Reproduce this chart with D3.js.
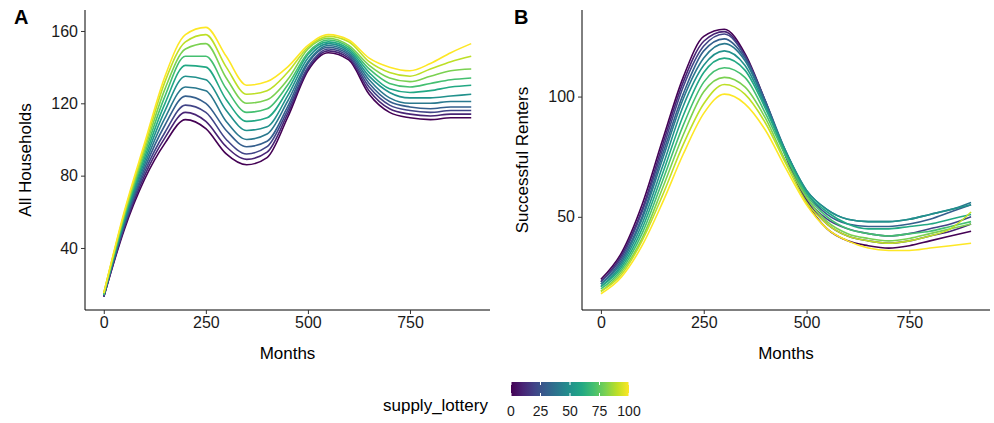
<!DOCTYPE html><html><head><script src="https://cdn.jsdelivr.net/npm/d3@7"></script>
<style>body{margin:0;background:#fff}text{font-family:"Liberation Sans",Arial,sans-serif}</style></head><body>
<svg id="c" width="994" height="423"></svg>
<script>
const months=[0,50,100,150,200,250,300,350,400,450,500,550,600,650,700,750,800,850,900];
const lotteries=[0,10,20,30,40,50,60,70,80,90,100];
const householdsA=[
[13,50,78,98,111,106,92,86,90,112,138,148,144,125,115,112,111,112,112],
[13,51,80,101,115,110,96,89,93,114,139,149,145,127,117,114,113,114,114],
[13,52,82,104,119,115,100,92,96,116,140,150,146,129,119,116,115,116,116],
[14,53,84,108,124,120,105,96,99,118,142,151,147,131,121,118,117,118,118],
[14,54,86,112,129,127,110,100,103,121,143,152,148,133,123,120,120,121,121],
[14,55,88,116,135,133,116,105,107,124,145,153,149,135,126,123,123,124,125],
[14,56,90,120,141,140,122,110,112,127,147,154,150,137,128,126,127,129,130],
[14,57,92,124,146,146,128,115,117,130,148,155,151,139,131,129,131,133,134],
[15,58,94,128,150,153,134,120,122,133,150,156,152,141,134,132,135,138,139],
[15,59,96,132,154,158,140,125,127,137,151,157,154,143,137,135,139,143,146],
[15,60,98,135,158,162,146,130,132,140,152,158,155,145,140,138,142,148,153]];
const rentersB=[
[24,35,55,82,108,125,128,118,98,75,56,45,40,38,37,38,40,42,44],
[23,34,53,80,106,123,127,117,97,75,57,47,42,40,39,40,42,44,47],
[23,33,52,78,104,121,126,117,98,76,58,49,45,43,42,43,45,47,50],
[22,32,50,76,101,119,124,116,98,77,60,51,47,46,46,47,49,52,55],
[22,31,49,74,99,116,122,115,97,77,61,53,49,48,48,49,51,53,56],
[21,30,47,71,96,113,119,113,96,77,61,53,49,48,48,49,51,53,55],
[21,29,45,68,92,110,116,111,95,76,60,52,47,45,45,46,47,49,51],
[20,28,43,65,88,106,112,108,93,75,59,50,45,43,42,43,44,46,48],
[19,27,41,62,84,102,108,104,91,73,58,48,43,41,40,41,43,45,47],
[19,26,40,59,80,97,105,101,89,72,56,47,42,40,39,40,42,45,52],
[18,25,38,56,76,93,101,97,86,70,55,45,40,37,36,36,37,38,39]];
const svg=d3.select("#c");
const color=d3.scaleSequential(d3.interpolateViridis).domain([0,100]);
function panel(x0,x1,ydom,yticks,data,label,ylab,labx){
 const x=d3.scaleLinear().domain([-46,946]).range([x0,x1]);
 const y=d3.scaleLinear().domain(ydom).range([310,10]);
 const g=svg.append("g");
 const line=d3.line().x((d,i)=>x(months[i])).y(d=>y(d)).curve(d3.curveMonotoneX);
 data.forEach((s,k)=>g.append("path").attr("d",line(s)).attr("fill","none").attr("stroke",color(lotteries[k])).attr("stroke-width",1.6));
 const ax=g.append("g").attr("transform","translate(0,310)").call(d3.axisBottom(x).tickValues([0,250,500,750]).tickSize(4).tickPadding(3));
 const ay=g.append("g").attr("transform",`translate(${x0},0)`).call(d3.axisLeft(y).tickValues(yticks).tickSize(4).tickPadding(3));
 [ax,ay].forEach(a=>{a.select(".domain").attr("stroke","#000");a.selectAll("text").attr("font-size",16).attr("fill","#1a1a1a");a.selectAll("line").attr("stroke","#333")});
 ax.select(".domain").attr("d",`M${x0},0H${x1}`);ay.select(".domain").attr("d",`M0,310V10`);
 g.append("text").attr("x",(x0+x1)/2).attr("y",359).attr("text-anchor","middle").attr("font-size",17).text("Months");
 g.append("text").attr("transform",`translate(${x0-54},160) rotate(-90)`).attr("text-anchor","middle").attr("font-size",17).text(ylab);
 g.append("text").attr("x",labx).attr("y",24).attr("font-size",20).attr("font-weight","bold").text(label);
}
panel(85,490,[5.7,171.6],[40,80,120,160],householdsA,"A","All Households",14);
panel(582,990,[11.25,136],[50,100],rentersB,"B","Successful Renters",514);
const defs=svg.append("defs");const gr=defs.append("linearGradient").attr("id","vg");
d3.range(0,1.01,0.1).forEach(t=>gr.append("stop").attr("offset",t).attr("stop-color",color(t*100)));
const lx=d3.scaleLinear().domain([0,100]).range([511,629]);
svg.append("rect").attr("x",511).attr("y",382).attr("width",118).attr("height",14).attr("fill","url(#vg)");
[0,25,50,75,100].forEach(v=>{svg.append("line").attr("x1",lx(v)).attr("x2",lx(v)).attr("y1",382).attr("y2",385).attr("stroke","#fff");svg.append("line").attr("x1",lx(v)).attr("x2",lx(v)).attr("y1",393).attr("y2",396).attr("stroke","#fff");
svg.append("text").attr("x",lx(v)).attr("y",416).attr("text-anchor","middle").attr("font-size",14).attr("fill","#1a1a1a").text(v)});
svg.append("text").attr("x",383).attr("y",411).attr("font-size",17).text("supply_lottery");
</script></body></html>
